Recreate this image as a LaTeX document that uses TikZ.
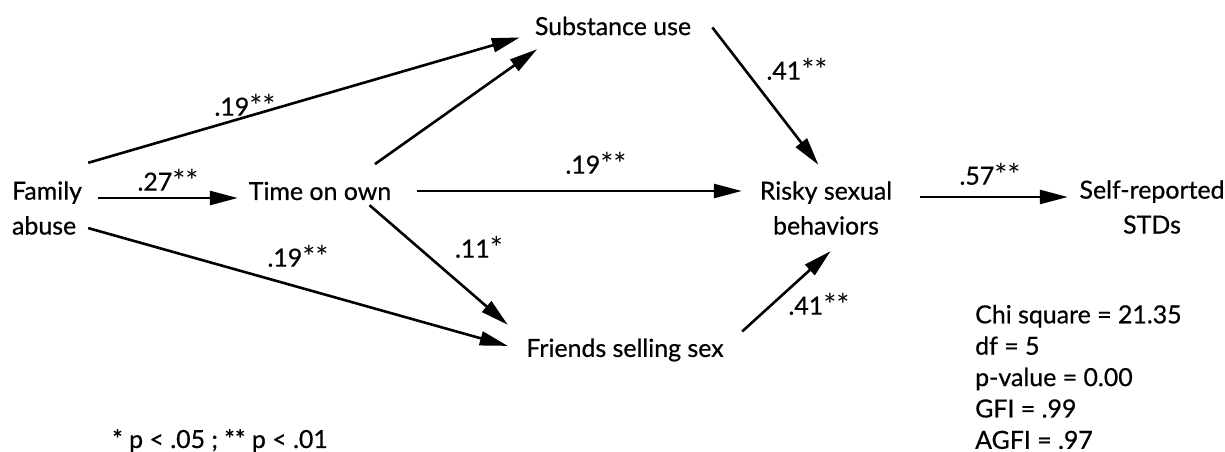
\documentclass[tikz,border=0pt]{standalone}
\usepackage{fontspec}
\setmainfont{Lato}[FakeBold=0.6]
\newfontfamily\astfont{Lato}
\usetikzlibrary{arrows.meta}
\newcommand{\sig}{\raisebox{-2bp}{\astfont\fontsize{31}{31}\selectfont*}}

\begin{document}
\begin{tikzpicture}[x=1bp,y=-1bp,
	var/.style={shape=rectangle,inner sep=0pt,align=center,font=\fontsize{25}{35}\selectfont},
	coef/.style={inner sep=0pt,font=\fontsize{25}{30}\selectfont},
	effect/.style={-{Triangle[length=28bp,width=14bp]},line width=2.6bp}]
	\useasboundingbox (0,0) rectangle (1225,452);

	% variables
	\node (family) at (47,208)[var,align=left,minimum width=82bp,minimum height=90bp] {Family\\abuse};
	\node (timeown) at (320,191)[var,minimum width=164bp,minimum height=28bp] {Time on own};
	\node (substance) at (613,26)[var,minimum width=186bp,minimum height=46bp] {Substance use};
	\node (friends) at (625,350)[var,minimum width=234bp,minimum height=50bp] {Friends selling sex};
	\node (risky) at (826,208)[var,minimum width=168bp,minimum height=86bp] {Risky sexual\\behaviors};
	\node (stds) at (1152,207)[var,minimum width=168bp,minimum height=86bp] {Self-reported\\STDs};

	% paths
	\draw[effect] (family.north east) -- (substance.187);
	\draw[effect,shorten <=10bp] ([yshift=-7bp]family.east |- timeown.west) -- ([yshift=-7bp]timeown.west);
	\draw[effect] (family.-26) -- (friends.178);
	\draw[effect,shorten <=22bp] (timeown.21) -- (substance.197);
	\draw[effect,shorten <=15bp] (timeown.east) -- (timeown.east -| risky.west);
	\draw[effect] (timeown.-16) -- (friends.north west);
	\draw[effect,shorten <=10bp] (substance.4) -- (risky.100);
	\draw[effect] (friends.9) -- (risky.-84);
	\draw[effect,shorten <=10bp] ([yshift=11bp]risky.east) -- ([yshift=11bp]risky.east -| stds.west);

	% coefficients
	\node (l19top) at (245,106)[coef] {.19\sig\sig};
	\node (l27) at (168,181)[coef] {.27\sig\sig};
	\node (l19low) at (298,257)[coef] {.19\sig\sig};
	\node (l11) at (479,248)[coef] {.11\sig};
	\node (l19mid) at (596,164)[coef] {.19\sig\sig};
	\node (l41top) at (797,70)[coef] {.41\sig\sig};
	\node (l41low) at (819,305)[coef] {.41\sig\sig};
	\node (l57) at (990,175)[coef] {.57\sig\sig};

	\node (legend) at (220,448)[coef,anchor=base] {* p < .05 ; ** p < .01};
	\node (fit) at (975,377)[coef,anchor=west,align=left,font=\fontsize{25}{31.5}\selectfont] {Chi square = 21.35\\df = 5\\p-value = 0.00\\GFI = .99\\AGFI = .97};
\end{tikzpicture}
\end{document}
